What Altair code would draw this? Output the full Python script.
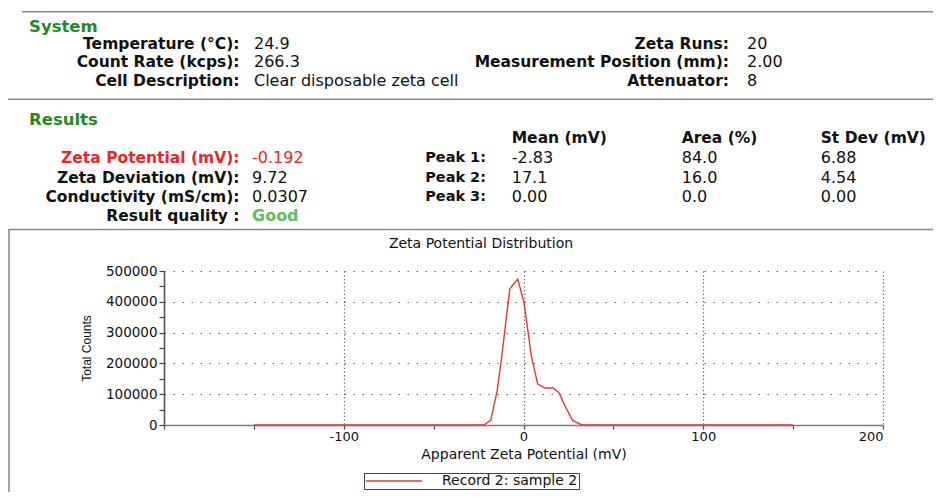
import altair as alt
import pandas as pd

# ---------------- data ----------------
zeta_mv = [-150, -22, -18.2, -14.6, -12.3, -7.6, -3.2, 0.4, 4.3, 7.9, 12.0, 16.6, 19.7, 23.6, 27.3, 32.5, 150]
total_counts = [0, 0, 16000, 113000, 213000, 442000, 474000, 394000, 226000, 133000, 120000, 120000, 105000, 56000, 15000, 0, 0]
series_name = "Record 2: sample 2"

system_labels = ["Temperature (°C):", "Count Rate (kcps):", "Cell Description:"]
system_values = ["24.9", "266.3", "Clear disposable zeta cell"]
system2_labels = ["Zeta Runs:", "Measurement Position (mm):", "Attenuator:"]
system2_values = ["20", "2.00", "8"]

result_labels = ["Zeta Potential (mV):", "Zeta Deviation (mV):", "Conductivity (mS/cm):", "Result quality :"]
result_values = ["-0.192", "9.72", "0.0307", "Good"]

peak_headers = ["Mean (mV)", "Area (%)", "St Dev (mV)"]
peak_labels = ["Peak 1:", "Peak 2:", "Peak 3:"]
peak_mean = ["-2.83", "17.1", "0.00"]
peak_area = ["84.0", "16.0", "0.0"]
peak_stdev = ["6.88", "4.54", "0.00"]

x_ticks = list(range(-200, 201, 50))
y_ticks = list(range(0, 500001, 50000))

# ---------------- layout helpers ----------------
OX, OY = 164, 271  # page position of the plot origin
FONT = "DejaVu Sans"
GREEN = "#1f8b1f"
LIGHT_GREEN = "#5cbf5c"
RED = "#e8262b"
GREY = "#8a8a8a"


def txt(s, px, py, align="left", bold=False, color="#111", size=15.5, font=FONT, angle=0):
    return alt.Chart(pd.DataFrame({"t": [s]})).mark_text(
        align=align, baseline="middle", font=font, fontSize=size,
        fontWeight="bold" if bold else "normal", color=color, angle=angle,
    ).encode(x=alt.value(px - OX), y=alt.value(py - OY), text="t:N")


def hrule(x1, x2, py):
    return alt.Chart(pd.DataFrame({"k": [0]})).mark_rule(color=GREY, strokeWidth=1.6).encode(
        x=alt.value(x1 - OX), x2=alt.value(x2 - OX), y=alt.value(py - OY))


layers = []

# frame around the chart panel
layers.append(
    alt.Chart(pd.DataFrame({"k": [0]})).mark_rect(fillOpacity=0, stroke=GREY, strokeWidth=1.6).encode(
        x=alt.value(9 - OX), x2=alt.value(980 - OX), y=alt.value(229.5 - OY), y2=alt.value(560 - OY))
)
layers.append(hrule(22, 960, 11.7))
layers.append(hrule(8, 935, 99.3))

# System block
layers.append(txt("System", 29, 27, bold=True, color=GREEN, size=16.5))
sys_rows = [44.3, 62.3, 80.7]
for lab, val, ry in zip(system_labels, system_values, sys_rows):
    layers.append(txt(lab, 239.5, ry, align="right", bold=True))
    layers.append(txt(val, 254, ry, size=16))
for lab, val, ry in zip(system2_labels, system2_values, sys_rows):
    layers.append(txt(lab, 729, ry, align="right", bold=True))
    layers.append(txt(val, 747, ry, size=16))

# Results block
layers.append(txt("Results", 29, 120, bold=True, color=GREEN, size=16.5))
res_rows = [158.3, 177.7, 196.7, 215.7]
for i, (lab, val, ry) in enumerate(zip(result_labels, result_values, res_rows)):
    lab_color = RED if i == 0 else "#111"
    val_color = RED if i == 0 else ("#111" if i < 3 else LIGHT_GREEN)
    layers.append(txt(lab, 239.5, ry, align="right", bold=True, color=lab_color))
    layers.append(txt(val, 252, ry, size=16, color=val_color, bold=(i == 3)))

col_x = [511.7, 681.7, 820.7]
for h, cx in zip(peak_headers, col_x):
    layers.append(txt(h, cx, 137.7, bold=True))
for j, ry in enumerate(res_rows[:3]):
    layers.append(txt(peak_labels[j], 486, ry, align="right", bold=True, size=14.5))
    layers.append(txt(peak_mean[j], col_x[0], ry, size=16))
    layers.append(txt(peak_area[j], col_x[1], ry, size=16))
    layers.append(txt(peak_stdev[j], col_x[2], ry, size=16))

# chart title
layers.append(txt("Zeta Potential Distribution", 481, 243.5, align="center", size=14))

# ---------------- distribution line ----------------
df = pd.DataFrame({"zeta": zeta_mv, "counts": total_counts, "series": [series_name] * len(zeta_mv)})

x_axis = alt.Axis(
    values=x_ticks,
    labelExpr="(datum.value % 100 === 0 && datum.value > -200) ? toString(datum.value) : ''",
    labelOverlap=False, labelBound=False,
    grid=True,
    gridOpacity={"condition": {"test": "datum.value % 100 === 0 && datum.value > -200", "value": 1}, "value": 0},
    gridDash=[1.3, 2.4], gridColor="#666", gridWidth=1.2,
    tickSize=4, tickColor="#444", tickWidth=1.2,
    domainColor="#7a7a7a", domainWidth=1.6,
    labelFont=FONT, labelFontSize=13, labelColor="#111", labelPadding=1,
    title="Apparent Zeta Potential (mV)",
    titleFont=FONT, titleFontSize=14, titleFontWeight="normal", titleColor="#111",
    titleY=29, titleBaseline="middle",
)

y_axis = alt.Axis(
    values=y_ticks,
    labelExpr="datum.value % 100000 === 0 ? toString(datum.value) : ''",
    labelOverlap=False, labelBound=False,
    grid=True,
    gridOpacity={"condition": {"test": "datum.value % 100000 === 0 && datum.value > 0", "value": 1}, "value": 0},
    gridDash=[1.5, 7.5], gridColor="#666", gridWidth=1.2,
    tickSize=5, tickColor="#444", tickWidth=1.2,
    domainColor="#555", domainWidth=1.6,
    labelFont=FONT, labelFontSize=13.5, labelColor="#111", labelPadding=2,
    title="Total Counts",
    titleFont="Liberation Sans Narrow, Liberation Sans", titleFontSize=12, titleFontWeight="normal",
    titleColor="#111", titleAngle=270, titleX=86 - OX, titleY=77, titleAlign="center", titleBaseline="middle",
)

line = alt.Chart(df).mark_line(strokeWidth=1.4, interpolate="linear").encode(
    x=alt.X("zeta:Q", scale=alt.Scale(domain=[-200, 200], nice=False, zero=False), axis=x_axis),
    y=alt.Y("counts:Q", scale=alt.Scale(domain=[0, 500000], nice=False), axis=y_axis),
    color=alt.Color(
        "series:N",
        scale=alt.Scale(domain=[series_name], range=["#e0393e"]),
        legend=alt.Legend(
            title=None, orient="none", legendX=364 - OX, legendY=473 - OY, direction="vertical",
            symbolType="stroke", symbolSize=3136, symbolStrokeWidth=1.3,
            labelFont=FONT, labelFontSize=14, labelColor="#111", labelOffset=19,
            strokeColor="#444", fillColor="white", padding=1, clipHeight=14,
        ),
    ),
)
layers.append(line)

chart = alt.layer(*layers).properties(
    width=719, height=154,
    padding={"left": 156, "top": 263, "right": 50, "bottom": 67},
    autosize=alt.AutoSizeParams(type="none"),
).configure_view(stroke=None)

chart.save("out.html", embed_options={"renderer": "svg", "actions": False})
